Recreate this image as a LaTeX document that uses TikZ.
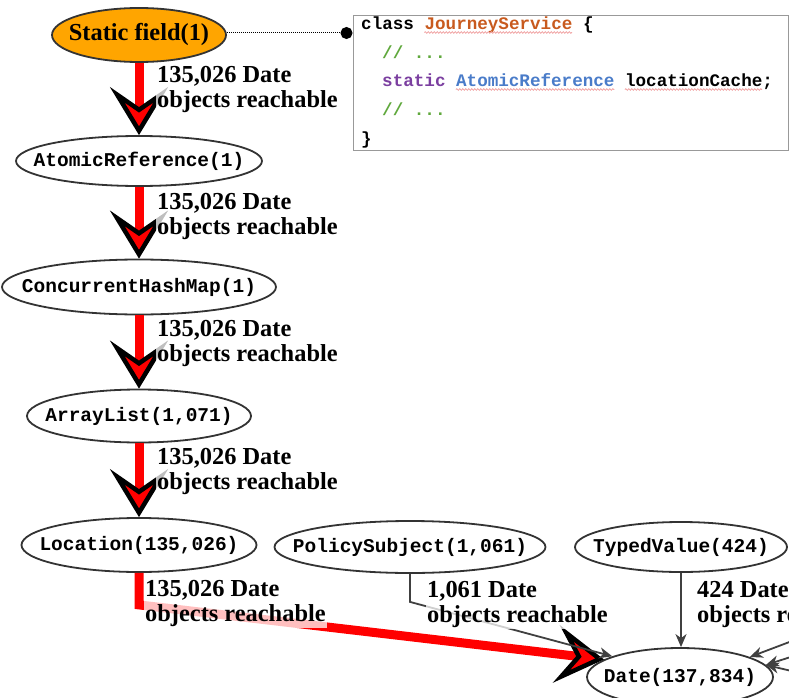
\documentclass[tikz,border=0pt]{standalone}
\usepackage{fontspec}
\setmainfont{Liberation Serif}
\setmonofont{Liberation Mono}
\usetikzlibrary{shapes.geometric, arrows.meta, decorations.pathmorphing}

\definecolor{edgegray}{HTML}{404040}
\definecolor{nodeline}{HTML}{333333}
\definecolor{kwpurple}{HTML}{7B3FA0}
\definecolor{typeblue}{HTML}{4A7CC9}
\definecolor{clsorange}{HTML}{C85A1E}
\definecolor{cmtgreen}{HTML}{5FA83C}
\definecolor{squiggle}{HTML}{F0A0A0}
\definecolor{boxgray}{HTML}{999999}
\definecolor{fieldorange}{HTML}{FFA500}

\tikzset{
  objnode/.style={ellipse, draw=nodeline, line width=1.8pt, inner sep=0pt,
    font=\fontsize{19.5}{19.5}\selectfont\ttfamily\bfseries},
  fieldnode/.style={ellipse, draw=nodeline, fill=fieldorange, line width=1.8pt, inner sep=0pt,
    font=\fontsize{24.4}{24.4}\selectfont\bfseries},
  hotedge/.style={draw=red, line width=9pt,
    -{Stealth[length=48pt, width=58pt, inset=20pt, line width=4.5pt, color=black, fill=red]}},
  coldedge/.style={draw=edgegray, line width=1.8pt,
    -{Stealth[length=13pt, width=11pt, inset=4pt]}},
  reach/.style={anchor=north west, align=left, inner sep=1pt, fill=white,
    fill opacity=0.75, text opacity=1,
    font=\fontsize{24.4}{24.5}\selectfont\bfseries},
  codeline/.style={anchor=base west, inner sep=0pt,
    font=\fontsize{17.6}{17.6}\selectfont\ttfamily\bfseries},
  spell/.style={draw=squiggle, line width=0.8pt, decorate,
    decoration={snake, amplitude=0.8pt, segment length=3pt}},
}

\begin{document}
\begin{tikzpicture}[x=1pt, y=-1pt]
\clip (0,0) rectangle (789,698);

% object nodes of the reference chain
\node[fieldnode, minimum width=174pt, minimum height=54pt] (sf) at (139,35) {\makebox[0pt]{Static field(1)}};
\node[objnode, minimum width=246pt, minimum height=50pt] (ar) at (139,161) {\makebox[0pt]{AtomicReference(1)}};
\node[objnode, minimum width=274pt, minimum height=55pt] (chm) at (139,287) {\makebox[0pt]{ConcurrentHashMap(1)}};
\node[objnode, minimum width=224pt, minimum height=53pt] (al) at (139,416) {\makebox[0pt]{ArrayList(1,071)}};
\node[objnode, minimum width=235pt, minimum height=54pt] (loc) at (139,545) {\makebox[0pt]{Location(135,026)}};
\node[objnode, minimum width=271pt, minimum height=52pt] (ps) at (410,547) {\makebox[0pt]{PolicySubject(1,061)}};
\node[objnode, minimum width=212pt, minimum height=50pt] (tv) at (681,547) {\makebox[0pt]{TypedValue(424)}};
\node[objnode, minimum width=186pt, minimum height=58pt] (date) at (680,677) {\makebox[0pt]{Date(137,834)}};

% source code box
\node[draw=boxgray, line width=1.2pt, anchor=north west, minimum width=435.5pt,
      minimum height=135pt, inner sep=0pt] (code) at (352.5,15) {};
\node[codeline] (c1) at (361,30) {class \textcolor{clsorange}{JourneyService} \{};
\node[codeline] (c2) at (382,59) {\textcolor{cmtgreen}{// ...}};
\node[codeline] (c3) at (382,87) {\textcolor{kwpurple}{static} \textcolor{typeblue}{AtomicReference} locationCache;};
\node[codeline] (c4) at (382,116) {\textcolor{cmtgreen}{// ...}};
\node[codeline] (c5) at (361,144) {\}};
\draw[spell] ([xshift=63.4pt, yshift=-2.5pt]c1.base west) -- ([xshift=211.2pt, yshift=-2.5pt]c1.base west);
\draw[spell] ([xshift=73.9pt, yshift=-2.5pt]c3.base west) -- ([xshift=232.3pt, yshift=-2.5pt]c3.base west);
\draw[spell] ([xshift=242.9pt, yshift=-2.5pt]c3.base west) -- ([xshift=380.2pt, yshift=-2.5pt]c3.base west);

% pin from the static field to its declaration
\coordinate (pin) at (352.5,33);
\draw[densely dotted, line width=1pt, -{Circle[length=12pt]}] (sf.east |- pin) -- (pin);

% dominant retention path
\draw[hotedge] (sf.south) -- (ar.north);
\draw[hotedge] (ar.south) -- (chm.north);
\draw[hotedge] (chm.south) -- (al.north);
\draw[hotedge] (al.south) -- (loc.north);
\draw[hotedge] (loc.south) -- ++(0,32) -- (date.167);

% other referrers of Date
\draw[coldedge] (ps.south) -- ++(0,28) -- (date.163);
\draw[coldedge] (tv.south) -- (tv.south |- date.north);
\coordinate (offA) at (800,638);
\coordinate (offB) at (800,654);
\coordinate (offC) at (800,673);
\draw[coldedge] (offA) -- (date.16);
\draw[coldedge] (offB) -- (date.8);
\draw[coldedge] (offC) -- (date.8);

% edge labels
\node[reach] (l1) at (156,65.5) {135,026 Date\\objects reachable};
\node[reach] (l2) at (156,192.5) {135,026 Date\\objects reachable};
\node[reach] (l3) at (156,319.5) {135,026 Date\\objects reachable};
\node[reach] (l4) at (156,447.5) {135,026 Date\\objects reachable};
\node[reach] (l5) at (144,579.5) {135,026 Date\\objects reachable};
\node[reach] (l6) at (426,580.5) {1,061 Date\\objects reachable};
\node[reach] (l7) at (696,580.5) {424 Date\\objects reachable};
\end{tikzpicture}
\end{document}
